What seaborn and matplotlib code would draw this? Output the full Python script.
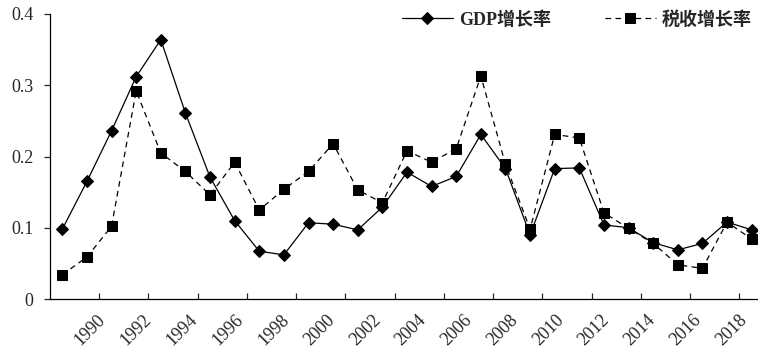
'''GDP growth vs tax revenue growth, 1990-2018'''
import numpy as np
import pandas as pd
import seaborn as sns
import matplotlib
matplotlib.use('Agg')
import matplotlib.pyplot as plt

# Data
years = list(range(1990, 2019))
gdp_growth = [0.098, 0.165, 0.236, 0.312, 0.364, 0.261, 0.171, 0.110, 0.067, 0.062,
              0.107, 0.105, 0.097, 0.129, 0.178, 0.158, 0.172, 0.231, 0.183, 0.090,
              0.183, 0.184, 0.104, 0.100, 0.079, 0.069, 0.078, 0.108, 0.097]
tax_growth = [0.034, 0.059, 0.102, 0.292, 0.205, 0.179, 0.146, 0.192, 0.125, 0.154,
              0.179, 0.218, 0.153, 0.135, 0.208, 0.192, 0.211, 0.313, 0.189, 0.098,
              0.231, 0.226, 0.121, 0.099, 0.078, 0.048, 0.043, 0.108, 0.084]
tick_years = list(range(1990, 2019, 2))
y_ticks = [0, 0.1, 0.2, 0.3, 0.4]
y_labels = ['0', '0.1', '0.2', '0.3', '0.4']
gdp_label = 'GDP增长率'
tax_label = '税收增长率'

sns.set_theme(style='white')
plt.rcParams['font.family'] = ['Liberation Serif', 'Noto Sans CJK SC']

df = pd.DataFrame({'idx': np.arange(len(years)), 'gdp': gdp_growth, 'tax': tax_growth})

fig = plt.figure(figsize=(7.58, 3.56), dpi=100)
W, H = 758, 356
ax = fig.add_axes([50 / W, (H - 299) / H, (764 - 50) / W, (299 - 14) / H])

sns.lineplot(data=df, x='idx', y='gdp', ax=ax, color='black', linewidth=0.9,
             marker='D', markersize=6.5, markeredgecolor='black', label=gdp_label)
sns.lineplot(data=df, x='idx', y='tax', ax=ax, color='black', linewidth=0.9,
             marker='s', markersize=7, markeredgecolor='black', label=tax_label,
             dashes=False)
ax.lines[1].set_dashes((4.5, 3.5))

ax.set_xlim(-0.5, len(years) - 0.5)
ax.set_ylim(0, 0.4)
ax.set_xlabel('')
ax.set_ylabel('')

# y axis
ax.set_yticks(y_ticks)
ax.set_yticklabels(y_labels, fontsize=13)
ax.tick_params(axis='y', direction='out', length=4, width=0.9, pad=8, left=True)

# x axis: tick marks between categories, labels rotated
ax.set_xticks(np.arange(1.5, len(years) - 1, 2), minor=True)
ax.set_xticks(np.linspace(1.9, 27.95, len(tick_years)))
ax.set_xticklabels([str(y) for y in tick_years], rotation=45, ha='right', fontsize=13)
ax.tick_params(axis='x', which='major', length=0, pad=9)
ax.tick_params(axis='x', which='minor', direction='in', length=4, width=0.9, bottom=True)

for side in ['top', 'right']:
    ax.spines[side].set_visible(False)
for side in ['left', 'bottom']:
    ax.spines[side].set_color('black')
    ax.spines[side].set_linewidth(0.9)

leg = ax.legend(loc='upper right', bbox_to_anchor=(752 / W, 1 - 11 / H),
                bbox_transform=fig.transFigure, ncol=2, frameon=False,
                handlelength=2.8, handletextpad=0.35, columnspacing=3.0,
                borderpad=0, borderaxespad=0, fontsize=13)
for txt in leg.get_texts():
    txt.set_fontweight('bold')

fig.savefig('out.png', dpi=100)
